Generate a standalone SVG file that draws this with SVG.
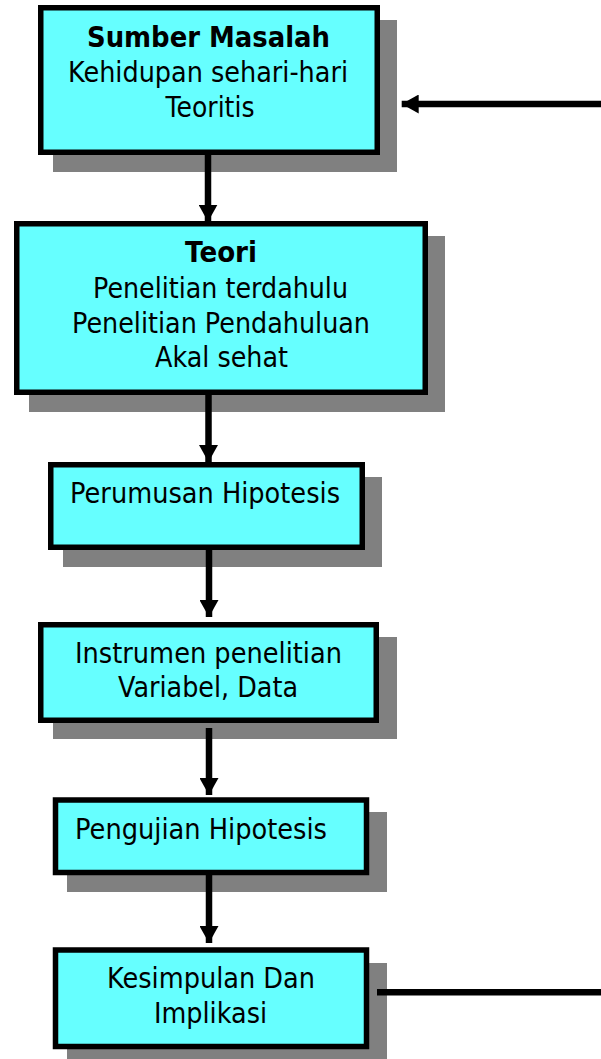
<svg xmlns="http://www.w3.org/2000/svg" width="601" height="1059" viewBox="0 0 601 1059">
<style>
.shadow{fill:#808080}
.box{fill:#66FFFF;stroke:#000;stroke-width:5.5}
text{font-family:"DejaVu Sans","Liberation Sans",sans-serif;font-size:28px;fill:#000;text-anchor:middle}
.b{font-weight:bold}
.conn{stroke:#000;stroke-width:6.5;fill:none}
</style>
<defs>
<marker id="ah" markerUnits="userSpaceOnUse" markerWidth="19" markerHeight="19" refX="17" refY="9.5" orient="auto" viewBox="0 0 19 19">
<path d="M0,0 L17,9.5 L0,19 Z" fill="#000"/>
</marker>
</defs>
<rect width="601" height="1059" fill="#fff"/>
<g id="node-sumber">
<rect class="shadow" x="53" y="20" width="344" height="152"/>
<rect class="box" x="40.75" y="7.75" width="336.5" height="144.5"/>
<text class="b" x="208.5" y="47" textLength="243" lengthAdjust="spacingAndGlyphs">Sumber Masalah</text>
<text x="208" y="82" textLength="280" lengthAdjust="spacingAndGlyphs">Kehidupan sehari-hari</text>
<text x="210" y="117" textLength="89" lengthAdjust="spacingAndGlyphs">Teoritis</text>
</g>
<g id="node-teori">
<rect class="shadow" x="29" y="236" width="416" height="176"/>
<rect class="box" x="16.75" y="223.75" width="408.5" height="168.5"/>
<text class="b" x="221" y="262" textLength="72" lengthAdjust="spacingAndGlyphs">Teori</text>
<text x="220.5" y="298" textLength="255" lengthAdjust="spacingAndGlyphs">Penelitian terdahulu</text>
<text x="221" y="333" textLength="298" lengthAdjust="spacingAndGlyphs">Penelitian Pendahuluan</text>
<text x="221.5" y="367" textLength="133" lengthAdjust="spacingAndGlyphs">Akal sehat</text>
</g>
<g id="node-perumusan">
<rect class="shadow" x="63" y="477" width="319" height="90"/>
<rect class="box" x="50.75" y="464.75" width="311.5" height="82.5"/>
<text x="205" y="503" textLength="270" lengthAdjust="spacingAndGlyphs">Perumusan Hipotesis</text>
</g>
<g id="node-instrumen">
<rect class="shadow" x="53" y="637" width="344" height="102"/>
<rect class="box" x="40.75" y="624.75" width="335.5" height="95.5"/>
<text x="208.5" y="663" textLength="267" lengthAdjust="spacingAndGlyphs">Instrumen penelitian</text>
<text x="208" y="697" textLength="180" lengthAdjust="spacingAndGlyphs">Variabel, Data</text>
</g>
<g id="node-pengujian">
<rect class="shadow" x="67" y="812" width="320" height="80"/>
<rect class="box" x="55.5" y="800" width="311" height="72.5"/>
<text x="201" y="839" textLength="252" lengthAdjust="spacingAndGlyphs">Pengujian Hipotesis</text>
</g>
<g id="node-kesimpulan">
<rect class="shadow" x="67" y="963" width="320" height="100"/>
<rect class="box" x="55.5" y="950" width="311" height="96.5"/>
<text x="211" y="988" textLength="208" lengthAdjust="spacingAndGlyphs">Kesimpulan Dan</text>
<text x="210.5" y="1023" textLength="113" lengthAdjust="spacingAndGlyphs">Implikasi</text>
</g>
<g id="connectors">
<line class="conn" x1="208" y1="155" x2="208" y2="221.7" marker-end="url(#ah)"/>
<line class="conn" x1="208.5" y1="395" x2="208.5" y2="462" marker-end="url(#ah)"/>
<line class="conn" x1="209" y1="550" x2="209" y2="617" marker-end="url(#ah)"/>
<line class="conn" x1="209" y1="728" x2="209" y2="795" marker-end="url(#ah)"/>
<line class="conn" x1="209" y1="875" x2="209" y2="943" marker-end="url(#ah)"/>
<line class="conn" x1="601" y1="104" x2="401.7" y2="104" marker-end="url(#ah)"/>
<line class="conn" x1="377" y1="992.3" x2="601" y2="992.3"/>
</g>
</svg>
